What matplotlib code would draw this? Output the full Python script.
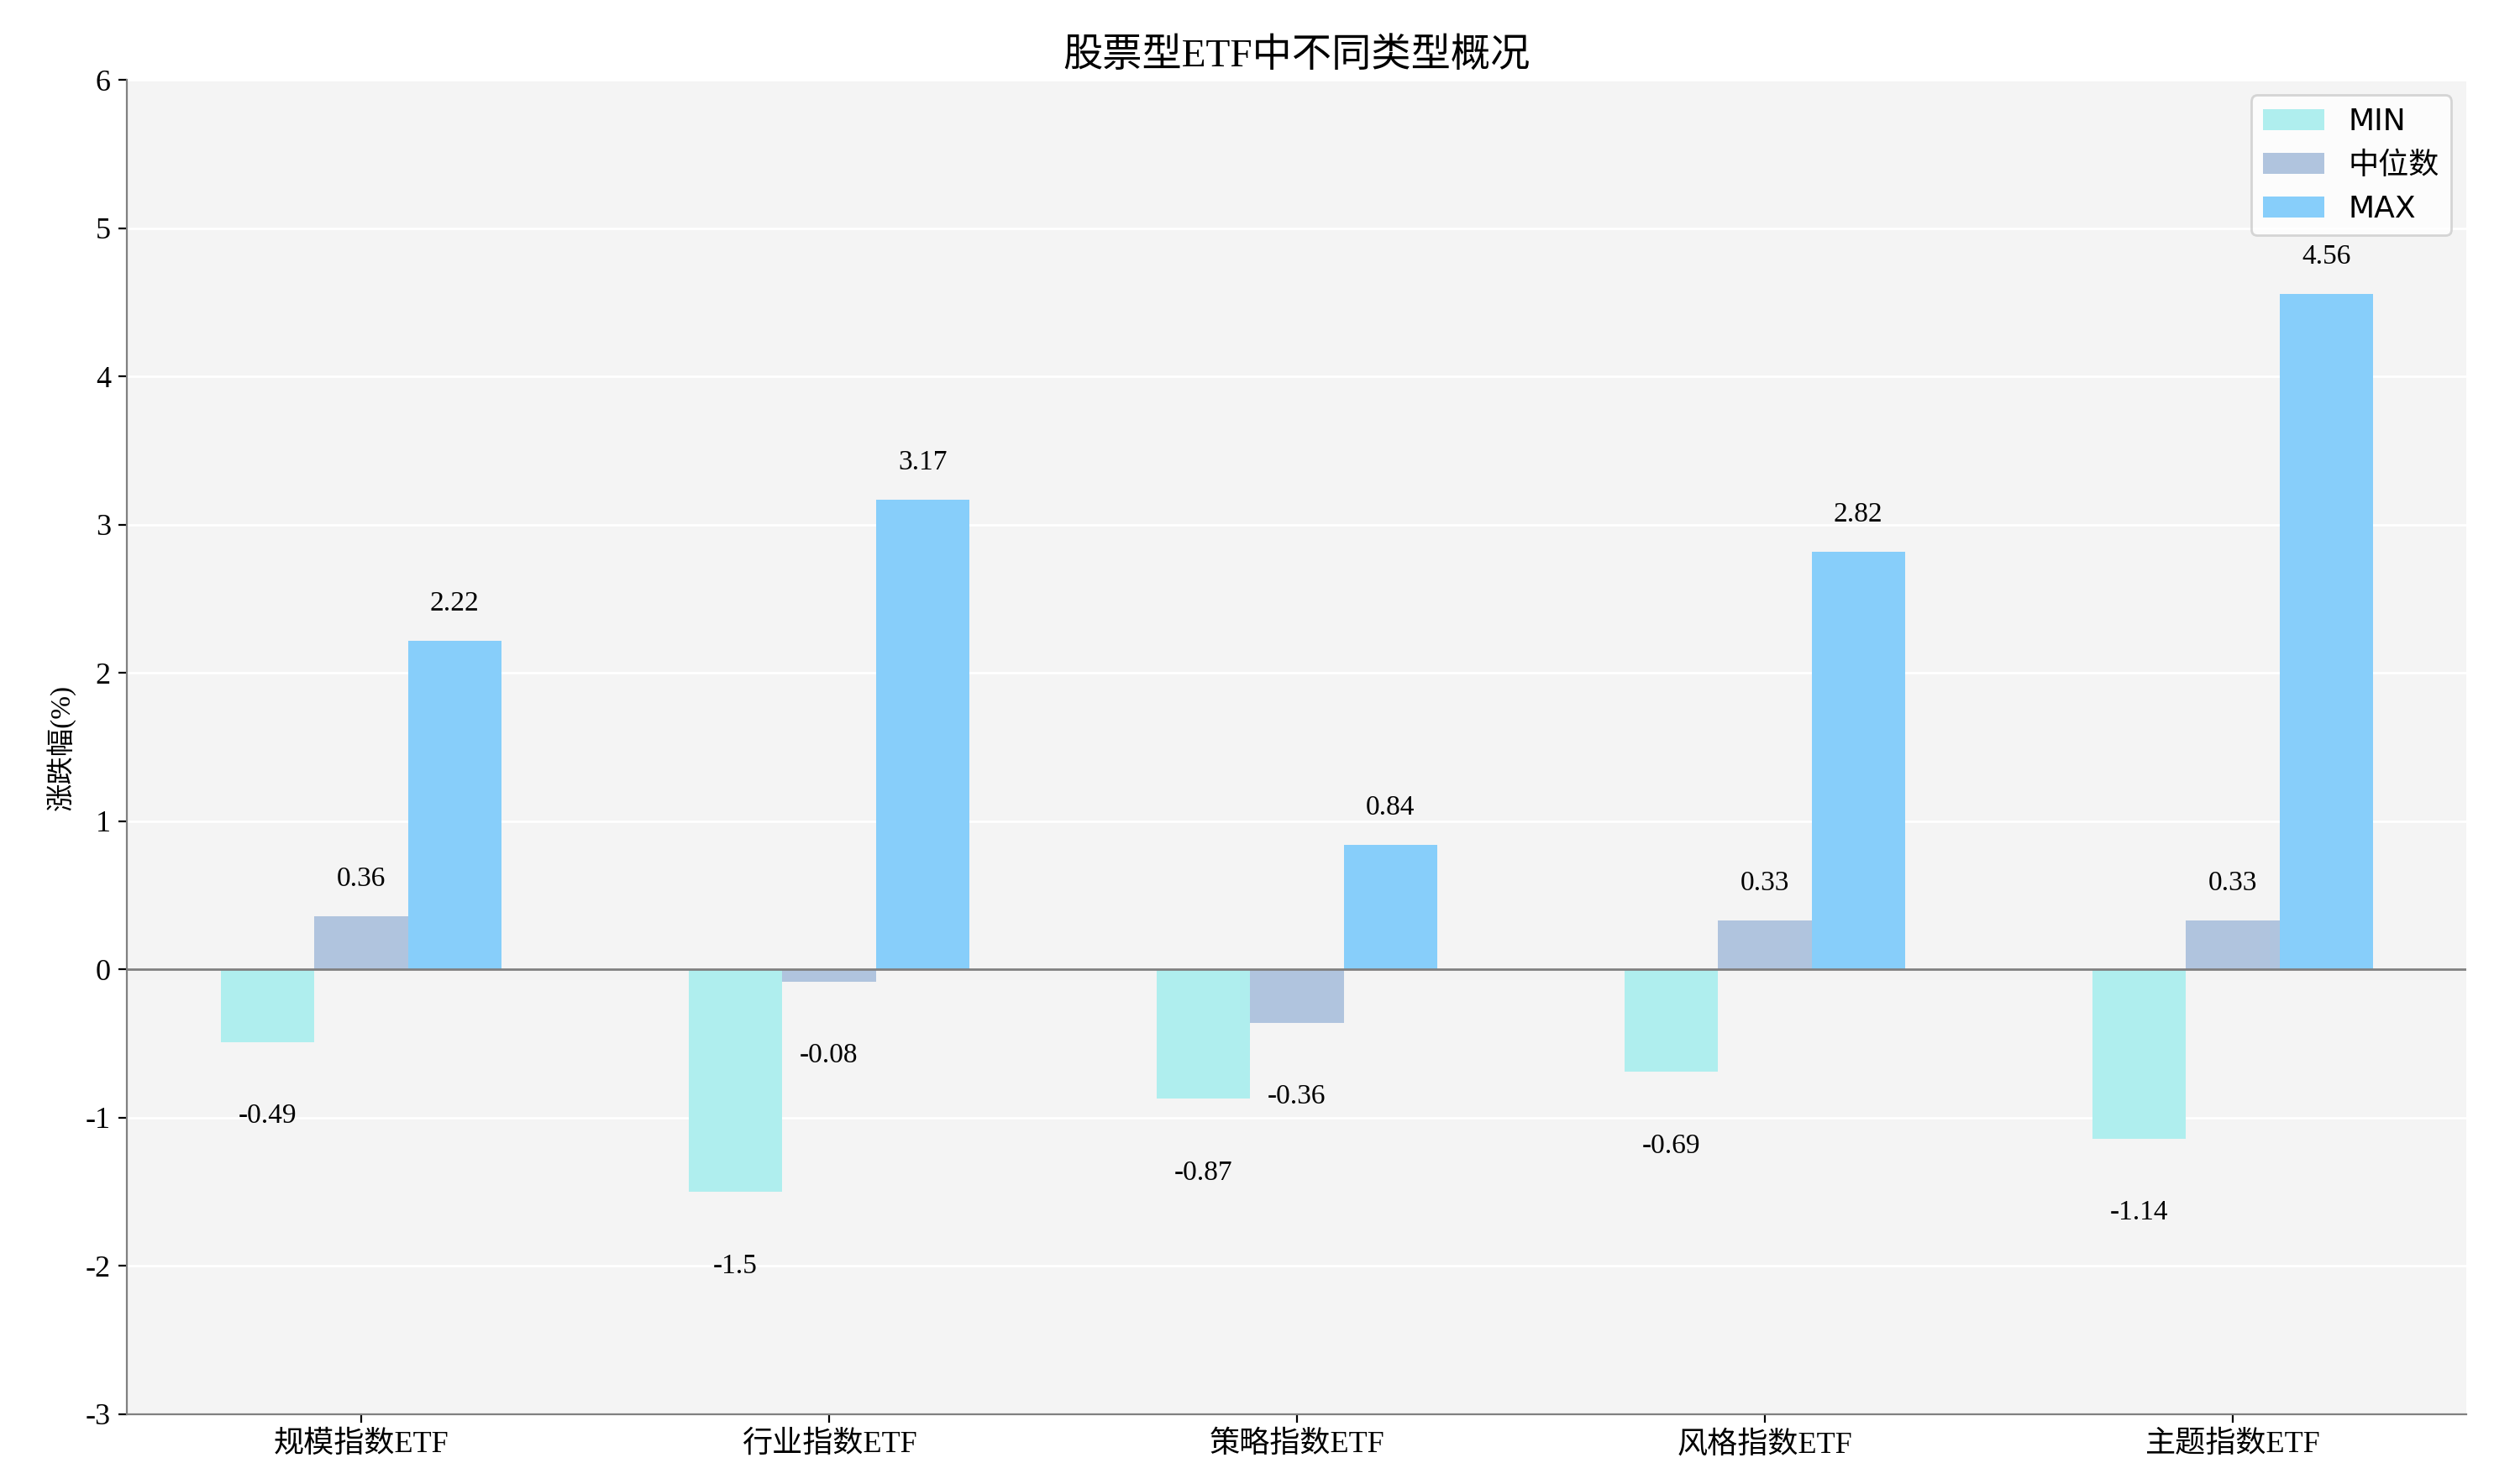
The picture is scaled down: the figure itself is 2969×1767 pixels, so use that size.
import matplotlib.pyplot as plt
import numpy as np

plt.rcParams["font.family"] = ["Liberation Serif", "Noto Sans CJK SC"]
plt.rcParams["axes.unicode_minus"] = False

categories = ["规模指数ETF", "行业指数ETF", "策略指数ETF", "风格指数ETF", "主题指数ETF"]
min_vals = [-0.49, -1.5, -0.87, -0.69, -1.14]
median_vals = [0.36, -0.08, -0.36, 0.33, 0.33]
max_vals = [2.22, 3.17, 0.84, 2.82, 4.56]

fig = plt.figure(figsize=(14.845, 8.835), dpi=200)
ax = fig.add_axes([0.051, 0.047, 0.938, 0.899])
ax.set_facecolor("#f4f4f4")
ax.grid(axis="y", color="white", linewidth=1)
ax.set_axisbelow(True)

x = np.arange(len(categories))
w = 0.2
series = [(min_vals, "#afeeee", "MIN"), (median_vals, "#b0c4de", "中位数"), (max_vals, "#87cefa", "MAX")]
for i, (vals, color, name) in enumerate(series):
    pos = x + (i - 1) * w
    ax.bar(pos, vals, w, color=color, label=name)
    for p, v in zip(pos, vals):
        y = v + 0.25 if v >= 0 else v - 0.5
        ax.text(p, y, f"{v:g}", ha="center", va="center", fontsize=12)

ax.axhline(0, color="grey", linewidth=1)
ax.set_ylim(-3, 6)
ax.set_xlim(-0.5, 4.5)
ax.set_xticks(x)
ax.set_xticklabels(categories, fontsize=13)
ax.tick_params(axis="y", labelsize=13)
ax.set_ylabel("涨跌幅(%)", fontsize=12)
ax.set_title("股票型ETF中不同类型概况", fontsize=17)
for s in ["top", "right"]:
    ax.spines[s].set_visible(False)
for s in ["left", "bottom"]:
    ax.spines[s].set_color("grey")

leg = ax.legend(loc="upper right", prop={"family": ["DejaVu Sans", "Noto Sans CJK SC"], "size": 13})

fig.savefig("out.png")
